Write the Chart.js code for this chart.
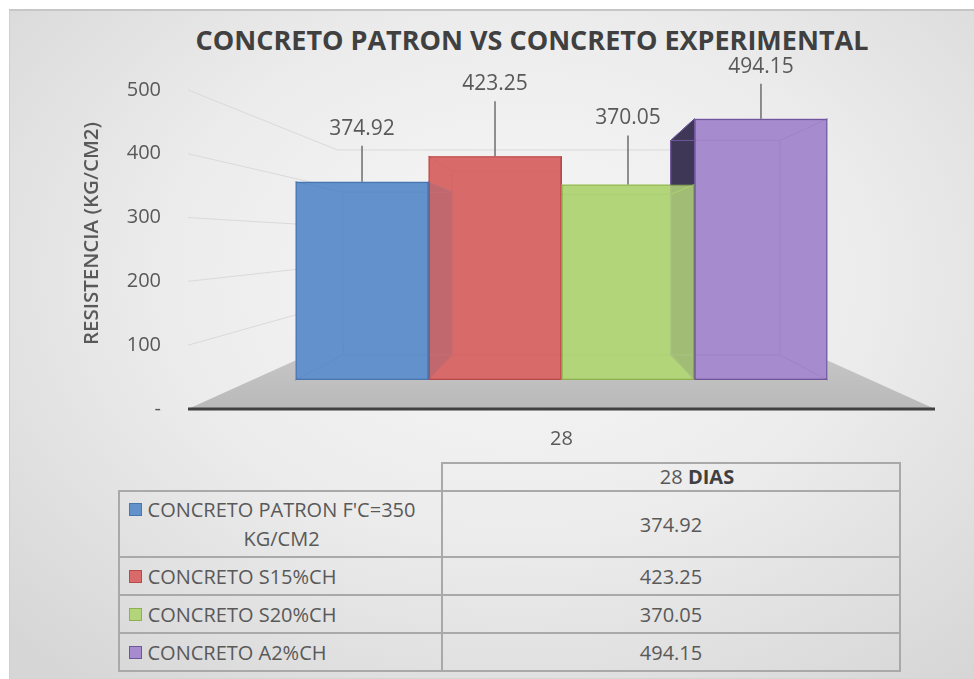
<!DOCTYPE html>
<html>
<head>
<meta charset="utf-8">
<script src="https://cdn.jsdelivr.net/npm/chart.js@4.4.1/dist/chart.umd.min.js"></script>
<style>
  html, body { margin: 0; padding: 0; background: #fff; }
  #frame {
    position: absolute; left: 9px; top: 9px; width: 975px; height: 667px;
    border-top: 2px solid #c6c6c6; border-left: 1px solid #d0d0d0; border-bottom: 1px solid #d6d6d6;
    background: radial-gradient(ellipse 72% 78% at 52% 40%, #f7f7f7 0%, #ececec 50%, #d6d6d6 100%);
  }
  #titulo {
    position: absolute; left: 0; top: 21px; width: 1064px; text-align: center;
    font-family: 'Open Sans', sans-serif; font-weight: bold; font-size: 27px; line-height: 38px; color: #404040;
  }
  #chart { position: absolute; left: 0; top: 0; }
  #tabla {
    position: absolute; left: 118px; top: 462px; width: 783px;
    border-collapse: collapse; font-family: 'Open Sans', sans-serif; font-size: 20px; color: #595959;
  }
  #tabla td { border: 2px solid #a9a9a9; padding: 0; }
  #tabla td.vacia { border: none; }
  #tabla td.cab { height: 26px; text-align: center; padding-left: 52px; line-height: 24px; }
  #tabla td.cab b { color: #404040; }
  #tabla td.val { text-align: center; }
  #tabla td.serie { width: 312px; padding-left: 9px; }
  .leyenda { display: flex; align-items: flex-start; line-height: 29px; }
  .marca { width: 11px; height: 11px; margin: 8px 5px 0 0; flex: none; }
  .nombre { display: inline-block; max-width: 290px; text-align: center; }
</style>
</head>
<body>
<div id="frame"></div>
<div id="titulo">CONCRETO PATRON VS CONCRETO EXPERIMENTAL</div>
<canvas id="chart" width="974" height="460"></canvas>
<table id="tabla"></table>
<script>
// === DATOS === //
const categorias = ['28'];
const series = ["CONCRETO PATRON F'C=350 KG/CM2", 'CONCRETO S15%CH', 'CONCRETO S20%CH', 'CONCRETO A2%CH'];
const valores = [374.92, 423.25, 370.05, 494.15];
const ticksY = [0, 100, 200, 300, 400, 500];

// colores: frente, borde, cara lateral
const colores = ['#6391cb', '#d86b6a', '#b3d57a', '#a68bcf'];
const bordes = ['#4a76b0', '#b94a4a', '#8fb04f', '#6f569a'];
const caras = ['#3f5a85', '#7d3535', '#6a8636', '#3e3856'];

// perspectiva (punto de fuga y profundidad)
const vista = { fugaY: 240, kFrente: 0.828, kFondo: 0.68, kPared: 0.6 };
const subida = [36, 55, 49, 35]; // largo de la línea de cada etiqueta

function rgba(hex, a) {
  const n = parseInt(hex.slice(1), 16);
  return `rgba(${n >> 16},${(n >> 8) & 255},${n & 255},${a})`;
}

function poligono(ctx, pts, fill, stroke) {
  ctx.save();
  ctx.beginPath();
  ctx.moveTo(pts[0][0], pts[0][1]);
  for (let k = 1; k < pts.length; k++) ctx.lineTo(pts[k][0], pts[k][1]);
  ctx.closePath();
  if (fill) { ctx.fillStyle = fill; ctx.fill(); }
  if (stroke) { ctx.strokeStyle = stroke; ctx.lineWidth = 1; ctx.stroke(); }
  ctx.restore();
}

const caja3d = {
  id: 'caja3d',
  beforeDatasetsDraw(chart) {
    const { ctx, chartArea: a, scales: { y } } = chart;
    const vx = (a.left + a.right) / 2, vy = vista.fugaY;
    const P = (x, yy, k) => [vx + k * (x - vx), vy + k * (yy - vy)];
    const y0 = y.getPixelForValue(0);

    // piso
    const piso = [P(a.left, y0, 1), P(a.right, y0, 1), P(a.right, y0, vista.kPared), P(a.left, y0, vista.kPared)];
    const g = ctx.createLinearGradient(0, piso[2][1], 0, y0);
    g.addColorStop(0, '#c9c9c9');
    g.addColorStop(1, '#b9b9b9');
    poligono(ctx, piso, g, null);

    // lineas de division (pared lateral y fondo)
    ctx.save();
    ctx.strokeStyle = '#d9d9d9';
    ctx.lineWidth = 1;
    y.ticks.forEach(t => {
      if (t.value <= 0) return;
      const yy = y.getPixelForValue(t.value);
      const p2 = P(a.left, yy, vista.kPared), p3 = P(a.right, yy, vista.kPared);
      ctx.beginPath();
      ctx.moveTo(a.left, yy);
      ctx.lineTo(p2[0], p2[1]);
      ctx.lineTo(p3[0], p3[1]);
      ctx.stroke();
    });
    ctx.restore();

    // eje horizontal
    ctx.save();
    ctx.strokeStyle = '#404040';
    ctx.lineWidth = 3;
    ctx.beginPath();
    ctx.moveTo(a.left, y0);
    ctx.lineTo(a.right, y0);
    ctx.stroke();
    ctx.restore();

    // caras de cada barra: fondo y caras internas, luego laterales oscuras, luego aristas
    const cajas = chart.data.datasets.map((ds, i) => {
      const bar = chart.getDatasetMeta(i).data[0];
      const { x, y: top, base, width } = bar.getProps(['x', 'y', 'base', 'width'], true);
      const l = x - width / 2, r = x + width / 2;
      const F = [P(l, top, vista.kFrente), P(r, top, vista.kFrente), P(r, base, vista.kFrente), P(l, base, vista.kFrente)];
      const B = [P(l, top, vista.kFondo), P(r, top, vista.kFondo), P(r, base, vista.kFondo), P(l, base, vista.kFondo)];
      return { x, F, B };
    });
    cajas.forEach(({ x, F, B }, i) => {
      poligono(ctx, B, colores[i], null);
      poligono(ctx, [F[0], F[1], B[1], B[0]], colores[i], null);
      poligono(ctx, [F[3], F[2], B[2], B[3]], colores[i], null);
      if (x < vx - 1) poligono(ctx, [F[0], B[0], B[3], F[3]], colores[i], null);
      else if (x > vx + 1) poligono(ctx, [F[1], B[1], B[2], F[2]], colores[i], null);
    });
    cajas.forEach(({ x, F, B }, i) => {
      if (x < vx - 1) poligono(ctx, [F[1], B[1], B[2], F[2]], caras[i], bordes[i]);
      else if (x > vx + 1) poligono(ctx, [F[0], B[0], B[3], F[3]], caras[i], bordes[i]);
    });
    cajas.forEach(({ F, B }, i) => {
      poligono(ctx, B, null, bordes[i]);
      ctx.save();
      ctx.strokeStyle = bordes[i];
      ctx.lineWidth = 1;
      for (let c = 0; c < 4; c++) {
        ctx.beginPath();
        ctx.moveTo(F[c][0], F[c][1]);
        ctx.lineTo(B[c][0], B[c][1]);
        ctx.stroke();
      }
      ctx.restore();
    });

    // el frente lo dibuja Chart.js, proyectado hacia el punto de fuga
    ctx.save();
    ctx.translate(vx, vy);
    ctx.scale(vista.kFrente, vista.kFrente);
    ctx.translate(-vx, -vy);
  },
  afterDatasetsDraw(chart) {
    const { ctx, chartArea: a } = chart;
    ctx.restore();
    const vx = (a.left + a.right) / 2, vy = vista.fugaY;
    ctx.save();
    ctx.strokeStyle = '#595959';
    ctx.lineWidth = 1.3;
    ctx.fillStyle = '#595959';
    ctx.font = '21px "Open Sans"';
    ctx.textAlign = 'center';
    ctx.textBaseline = 'middle';
    chart.data.datasets.forEach((ds, i) => {
      const bar = chart.getDatasetMeta(i).data[0];
      const { x, y: top } = bar.getProps(['x', 'y'], true);
      const px = vx + vista.kFrente * (x - vx), py = vy + vista.kFrente * (top - vy);
      ctx.beginPath();
      ctx.moveTo(px, py);
      ctx.lineTo(px, py - subida[i]);
      ctx.stroke();
      ctx.fillText(ds.data[0].toFixed(2), px, py - subida[i] - 17);
    });
    ctx.restore();
  }
};

new Chart(document.getElementById('chart'), {
  type: 'bar',
  data: {
    labels: categorias,
    datasets: series.map((s, i) => ({
      label: s,
      data: [valores[i]],
      backgroundColor: rgba(colores[i], 0.85),
      borderColor: bordes[i],
      borderWidth: 1.6,
      borderSkipped: false,
      categoryPercentage: 0.86,
      barPercentage: 1,
      clip: false
    }))
  },
  options: {
    responsive: false,
    animation: false,
    layout: { padding: { top: 58, right: 39, bottom: 0, left: 0 } },
    plugins: {
      legend: { display: false },
      tooltip: { enabled: false }
    },
    scales: {
      x: {
        grid: { display: false },
        border: { display: false },
        ticks: { color: '#595959', font: { family: 'Open Sans', size: 20 }, padding: 10 },
        afterFit: s => { s.height = 51; }
      },
      y: {
        min: 0,
        max: 550,
        grid: { display: false },
        border: { display: false },
        afterBuildTicks: s => { s.ticks = ticksY.map(v => ({ value: v })); },
        afterFit: s => { s.width = 188; },
        ticks: {
          color: '#595959',
          font: { family: 'Open Sans', size: 20 },
          padding: 19,
          callback: v => (v === 0 ? '-' : v)
        },
        title: {
          display: true,
          text: 'RESISTENCIA (KG/CM2)',
          color: '#595959',
          font: { family: 'Open Sans', size: 20.5, weight: '600' },
          padding: { top: 80, bottom: 0 }
        }
      }
    }
  },
  plugins: [caja3d]
});

// === TABLA DE DATOS === //
const tabla = document.getElementById('tabla');
let html = `<tr><td class="vacia"></td><td class="cab">${categorias[0]} <b>DIAS</b></td></tr>`;
series.forEach((s, i) => {
  const alto = i === 0 ? 66 : 38;
  html += `<tr style="height:${alto}px"><td class="serie"><div class="leyenda">` +
    `<span class="marca" style="background:${colores[i]};border:1px solid ${bordes[i]}"></span>` +
    `<span class="nombre">${s}</span></div></td>` +
    `<td class="val">${valores[i].toFixed(2)}</td></tr>`;
});
tabla.innerHTML = html;

// ajusta el ancho de cada nombre a su línea más larga
document.querySelectorAll('.nombre').forEach(el => {
  const rango = document.createRange();
  rango.selectNodeContents(el);
  const w = Math.max(...Array.from(rango.getClientRects()).map(c => c.width));
  el.style.width = Math.ceil(w) + 1 + 'px';
});
</script>
</body>
</html>
